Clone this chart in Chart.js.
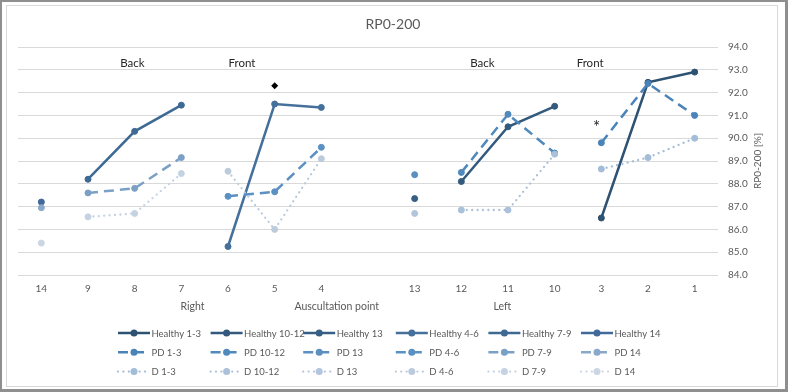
<!DOCTYPE html>
<html>
<head>
<meta charset="utf-8">
<script src="https://cdn.jsdelivr.net/npm/chart.js@4.4.1/dist/chart.umd.min.js"></script>
<style>
  html, body { margin: 0; padding: 0; background: #fff; }
  #wrap { width: 788px; height: 392px; }
</style>
</head>
<body>
<div id="wrap"><canvas id="Chart" width="788" height="392"></canvas></div>
<script>
// categories on the x axis (auscultation points), '' is the empty slot between right and left side
const categories = ['14', '9', '8', '7', '6', '5', '4', '', '13', '12', '11', '10', '3', '2', '1'];

// RP0-200 [%], one value per category
const healthyValues = [87.2, 88.2, 90.3, 91.45, 85.25, 91.5, 91.35, null, 87.35, 88.1, 90.5, 91.4, 86.5, 92.45, 92.9];
const pdValues      = [86.95, 87.6, 87.8, 89.15, 87.45, 87.65, 89.6, null, 88.4, 88.5, 91.05, 89.35, 89.8, 92.4, 91.0];
const dValues       = [85.4, 86.55, 86.7, 88.45, 88.55, 86.0, 89.1, null, 86.7, 86.85, 86.85, 89.3, 88.65, 89.15, 90.0];

// series groups (legend order) and which points they join
const groupNames  = ['1-3', '10-12', '13', '4-6', '7-9', '14'];
const groupPoints = [['3', '2', '1'], ['12', '11', '10'], ['13'], ['6', '5', '4'], ['9', '8', '7'], ['14']];

// y axis
const yMin = 84;
const yMax = 94;
const yStep = 1;

// colours per group
const healthyColors = ['#2e5272', '#335a7d', '#375f85', '#44709b', '#3e6993', '#41699a'];
const pdColors      = ['#4a83b8', '#5089bc', '#5b8fc0', '#5b90c2', '#7ba0c6', '#8aa8c8'];
const dColors       = ['#a3bcd8', '#abc1da', '#b3c5dc', '#bccbdc', '#c4d2e2', '#ccd6e2'];

const FONT = 'Lato, "Open Sans", sans-serif';
const GREY = '#595959';

function pick(values, pts) {
    return categories.map((c, i) => pts.includes(c) ? values[i] : null);
}

// build datasets: Healthy, PD, D
const styles = [
    { prefix: 'Healthy', values: healthyValues, colors: healthyColors, dash: [], width: 2.5, cap: 'butt' },
    { prefix: 'PD', values: pdValues, colors: pdColors, dash: [10, 6], width: 2.5, cap: 'butt' },
    { prefix: 'D', values: dValues, colors: dColors, dash: [0.01, 5.4], width: 2.3, cap: 'round' }
];

const datasets = [];
styles.forEach(st => {
    groupNames.forEach((g, gi) => {
        datasets.push({
            label: st.prefix + ' ' + g,
            data: pick(st.values, groupPoints[gi]),
            borderColor: st.colors[gi],
            backgroundColor: st.colors[gi],
            borderWidth: st.width,
            borderDash: st.dash,
            borderCapStyle: st.cap,
            pointRadius: 3,
            pointBorderWidth: 1,
            pointBorderColor: st.colors[gi],
            pointBackgroundColor: st.colors[gi],
            spanGaps: false,
            tension: 0,
            order: -datasets.length
        });
    });
});

// frame, titles, annotations and legend
const decorPlugin = {
    id: 'decor',
    beforeDraw(chart) {
        const ctx = chart.ctx;
        ctx.save();
        ctx.fillStyle = '#8f8f8f';
        ctx.fillRect(0, 0, chart.width, chart.height);
        ctx.fillStyle = '#fff';
        ctx.fillRect(2, 2, chart.width - 5, chart.height - 5);
        ctx.strokeStyle = '#d9d9d9';
        ctx.lineWidth = 1;
        ctx.strokeRect(6.5, 5.5, 771, 381);
        ctx.restore();
    },
    afterDraw(chart) {
        const ctx = chart.ctx;
        const xs = chart.scales.x;
        const ys = chart.scales.y;
        const area = chart.chartArea;
        const step = xs.getPixelForValue(1) - xs.getPixelForValue(0);
        const catX = pos => xs.getPixelForValue(0) + pos * step;

        ctx.save();
        ctx.textAlign = 'center';
        ctx.textBaseline = 'middle';

        // chart title
        ctx.fillStyle = GREY;
        ctx.font = '14px ' + FONT;
        ctx.fillText('RP0-200', 393, 24);

        // y axis title, reading upwards
        ctx.save();
        ctx.translate(758, (area.top + area.bottom) / 2);
        ctx.rotate(-Math.PI / 2);
        ctx.font = '10px ' + FONT;
        ctx.fillText('RP0-200 [%]', 0, 0);
        ctx.restore();

        // side labels under the axis
        ctx.font = '10.5px ' + FONT;
        ctx.fillText('Right', catX(3.24), area.bottom + 32);
        ctx.fillText('Auscultation point', catX(6.33), area.bottom + 32);
        ctx.fillText('Left', catX(9.88), area.bottom + 32);

        // back / front labels
        ctx.fillStyle = '#262626';
        ctx.font = '11.5px ' + FONT;
        const yLab = ys.getPixelForValue(93.3);
        ctx.fillText('Back', catX(1.95), yLab);
        ctx.fillText('Front', catX(4.3), yLab);
        ctx.fillText('Back', catX(9.45), yLab);
        ctx.fillText('Front', catX(11.76), yLab);

        // significance markers
        ctx.fillStyle = '#000';
        const dx = catX(5), dy = ys.getPixelForValue(92.3);
        ctx.beginPath();
        ctx.moveTo(dx, dy - 3.5);
        ctx.lineTo(dx + 3.5, dy);
        ctx.lineTo(dx, dy + 3.5);
        ctx.lineTo(dx - 3.5, dy);
        ctx.closePath();
        ctx.fill();
        ctx.fillStyle = '#262626';
        ctx.font = '17px ' + FONT;
        ctx.textBaseline = 'alphabetic';
        ctx.fillText('*', catX(11.9), ys.getPixelForValue(90.68) + 10);

        // legend: 3 rows x 6 columns
        ctx.textAlign = 'left';
        ctx.textBaseline = 'middle';
        ctx.font = '9.5px ' + FONT;
        chart.data.datasets.forEach((ds, i) => {
            const col = i % 6, row = Math.floor(i / 6);
            const x0 = 118 + col * 92.6;
            const y0 = 333 + row * 19.3;
            ctx.save();
            ctx.strokeStyle = ds.borderColor;
            ctx.lineWidth = ds.borderWidth;
            ctx.lineCap = ds.borderCapStyle;
            ctx.setLineDash(ds.borderDash);
            ctx.beginPath();
            ctx.moveTo(x0, y0);
            ctx.lineTo(x0 + 32, y0);
            ctx.stroke();
            ctx.setLineDash([]);
            ctx.fillStyle = ds.pointBackgroundColor;
            ctx.beginPath();
            ctx.arc(x0 + 16, y0, 3.5, 0, Math.PI * 2);
            ctx.fill();
            ctx.restore();
            ctx.fillStyle = GREY;
            ctx.fillText(ds.label, x0 + 33.5, y0 + 0.5);
        });
        ctx.restore();
    }
};

const ctx = document.getElementById('Chart').getContext('2d');
const myChart = new Chart(ctx, {
    type: 'line',
    data: {
        labels: categories,
        datasets: datasets
    },
    options: {
        responsive: false,
        animation: false,
        devicePixelRatio: 1,
        layout: { padding: { left: 18, right: 20, top: 47, bottom: 0 } },
        plugins: {
            legend: { display: false },
            title: { display: false },
            tooltip: { enabled: false }
        },
        scales: {
            x: {
                type: 'category',
                offset: true,
                grid: { display: false, drawTicks: false },
                border: { display: false },
                ticks: {
                    color: GREY,
                    font: { family: FONT, size: 10 },
                    padding: 8,
                    autoSkip: false,
                    maxRotation: 0
                },
                afterFit: scale => { scale.height = 117; }
            },
            y: {
                position: 'right',
                min: yMin,
                max: yMax,
                grid: { color: '#d9d9d9', lineWidth: 1, drawTicks: false },
                border: { display: false },
                ticks: {
                    stepSize: yStep,
                    color: GREY,
                    font: { family: FONT, size: 10 },
                    padding: 10,
                    callback: v => v.toFixed(1)
                },
                afterFit: scale => { scale.width = 50; }
            }
        }
    },
    plugins: [decorPlugin]
});
</script>
</body>
</html>
